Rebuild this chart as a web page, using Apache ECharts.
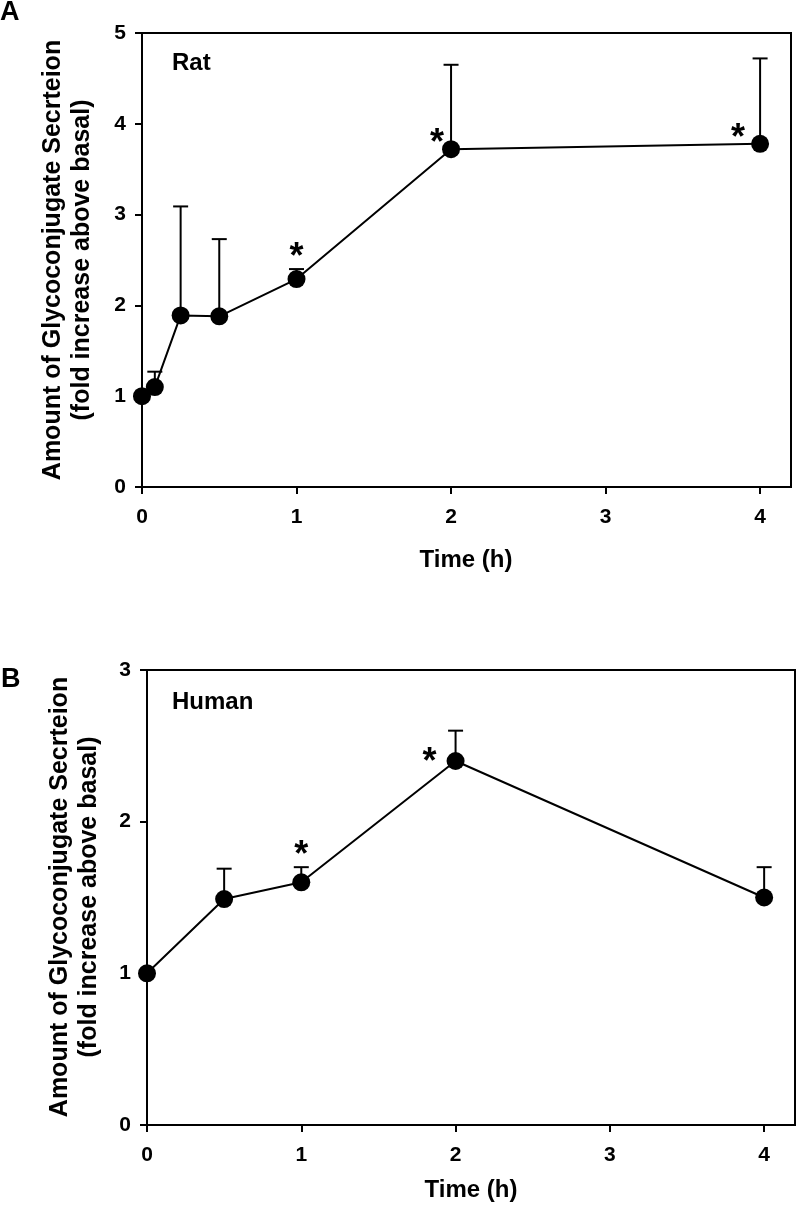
<!DOCTYPE html>
<html><head><meta charset="utf-8">
<script src="https://cdn.jsdelivr.net/npm/echarts@6/dist/echarts.min.js"></script>
<style>html,body{margin:0;padding:0;background:#fff}#c{width:797px;height:1212px}</style>
</head><body><div id="c"></div>
<script>
// ---- data ----
const xTicks = [0, 1, 2, 3, 4];
const ratYTicks = [0, 1, 2, 3, 4, 5];
const humanYTicks = [0, 1, 2, 3];

const ratTime = [0, 0.083, 0.25, 0.5, 1, 2, 4];
const ratMean = [1.0, 1.10, 1.89, 1.88, 2.29, 3.72, 3.78];
const ratSem  = [0, 0.17, 1.20, 0.85, 0.11, 0.93, 0.94];
const ratSig  = ['', '', '', '', 'top', 'left', 'left'];

const humanTime = [0, 0.5, 1, 2, 4];
const humanMean = [1.0, 1.49, 1.60, 2.40, 1.50];
const humanSem  = [0, 0.20, 0.10, 0.20, 0.20];
const humanSig  = ['', '', 'top', 'left', ''];

const yTitle = 'Amount of Glycoconjugate Secrteion\n(fold increase above basal)';
const xTitle = 'Time (h)';

// ---- styles ----
const FONT = '"Liberation Sans", Arial, Helvetica, sans-serif';
const starShift = { rat: { 5: [-14, -14], 6: [-22, -14] }, human: { 3: [-26, -7] } };

const chart = echarts.init(document.getElementById('c'), null, { renderer: 'canvas' });

function axisCommon() {
  return {
    axisLine: { show: true, onZero: false, lineStyle: { color: '#000', width: 2 } },
    axisTick: { show: true, inside: false, length: 7, lineStyle: { color: '#000', width: 2 } },
    splitLine: { show: false },
  };
}

function xAxisFor(gi) {
  return Object.assign(axisCommon(), {
    type: 'value', gridIndex: gi, min: 0, max: 4.2,
    axisTick: { show: true, length: 7, lineStyle: { color: '#000', width: 2 }, customValues: xTicks },
    axisLabel: { customValues: xTicks, color: '#000', fontFamily: FONT, fontWeight: 'bold', fontSize: 21, margin: 20 },
  });
}
function yAxisFor(gi, ticks) {
  return Object.assign(axisCommon(), {
    type: 'value', gridIndex: gi, min: ticks[0], max: ticks[ticks.length - 1], interval: 1,
    axisLabel: { color: '#000', fontFamily: FONT, fontWeight: 'bold', fontSize: 21, margin: 16 },
  });
}

function seriesFor(gi, key, time, mean, sem, sig) {
  const pts = time.map((t, i) => [t, mean[i]]);
  const errData = [];
  time.forEach((t, i) => { if (sem[i] > 0) errData.push([t, mean[i], mean[i] + sem[i]]); });
  const starData = [], starKind = [];
  time.forEach((t, i) => {
    if (sig[i]) { starData.push([t, mean[i], mean[i] + sem[i], i]); starKind.push(sig[i]); }
  });
  return [
    {
      type: 'custom', xAxisIndex: gi, yAxisIndex: gi, z: 2, silent: true,
      data: errData,
      renderItem: function (params, api) {
        const p0 = api.coord([api.value(0), api.value(1)]);
        const p1 = api.coord([api.value(0), api.value(2)]);
        const st = { stroke: '#000', lineWidth: 2 };
        return { type: 'group', children: [
          { type: 'line', shape: { x1: p0[0], y1: p0[1], x2: p1[0], y2: p1[1] }, style: st },
          { type: 'line', shape: { x1: p1[0] - 7.5, y1: p1[1], x2: p1[0] + 7.5, y2: p1[1] }, style: st },
        ] };
      }
    },
    {
      type: 'line', xAxisIndex: gi, yAxisIndex: gi, z: 3, silent: true,
      data: pts, symbol: 'circle', symbolSize: 18, showAllSymbol: true,
      itemStyle: { color: '#000' }, lineStyle: { color: '#000', width: 2 },
    },
    {
      type: 'custom', xAxisIndex: gi, yAxisIndex: gi, z: 4, silent: true,
      data: starData,
      renderItem: function (params, api) {
        const kind = starKind[params.dataIndex];
        const idx = api.value(3);
        let x, y;
        if (kind === 'top') {
          const p = api.coord([api.value(0), api.value(2)]);
          x = p[0]; y = p[1] - 20;
        } else {
          const p = api.coord([api.value(0), api.value(1)]);
          const s = starShift[key][idx] || [-18, -12];
          x = p[0] + s[0]; y = p[1] + s[1];
        }
        return { type: 'text', x: x, y: y + 9, style: { text: '*', font: 'bold 36px ' + FONT, fill: '#000', align: 'center', verticalAlign: 'middle' } };
      }
    }
  ];
}

const txt = (text, x, y, size, extra) => Object.assign({
  type: 'text', x: x, y: y, silent: true,
  style: Object.assign({ text: text, font: 'bold ' + size + 'px ' + FONT, fill: '#000', align: 'left', verticalAlign: 'top' }, extra || {})
});

const option = {
  backgroundColor: '#fff',
  animation: false,
  grid: [
    { left: 142, top: 33, right: 6, height: 454, show: true, borderColor: '#000', borderWidth: 2, backgroundColor: 'transparent' },
    { left: 147, top: 670, right: 2, height: 455, show: true, borderColor: '#000', borderWidth: 2, backgroundColor: 'transparent' },
  ],
  xAxis: [xAxisFor(0), xAxisFor(1)],
  yAxis: [yAxisFor(0, ratYTicks), yAxisFor(1, humanYTicks)],
  series: [].concat(
    seriesFor(0, 'rat', ratTime, ratMean, ratSem, ratSig),
    seriesFor(1, 'human', humanTime, humanMean, humanSem, humanSig)
  ),
  graphic: [
    txt('A', 0, -1, 27),
    txt('B', 1, 666, 27),
    txt('Rat', 172, 51, 24),
    txt('Human', 172, 690, 24),
    txt(xTitle, 466, 548, 24, { align: 'center' }),
    txt(xTitle, 471, 1178, 24, { align: 'center' }),
    Object.assign(txt(yTitle, 68, 260, 25, { align: 'center', verticalAlign: 'middle', lineHeight: 29 }), { rotation: Math.PI / 2 }),
    Object.assign(txt(yTitle, 75, 897, 25, { align: 'center', verticalAlign: 'middle', lineHeight: 29 }), { rotation: Math.PI / 2 }),
  ]
};
chart.setOption(option);
</script>
</body></html>
